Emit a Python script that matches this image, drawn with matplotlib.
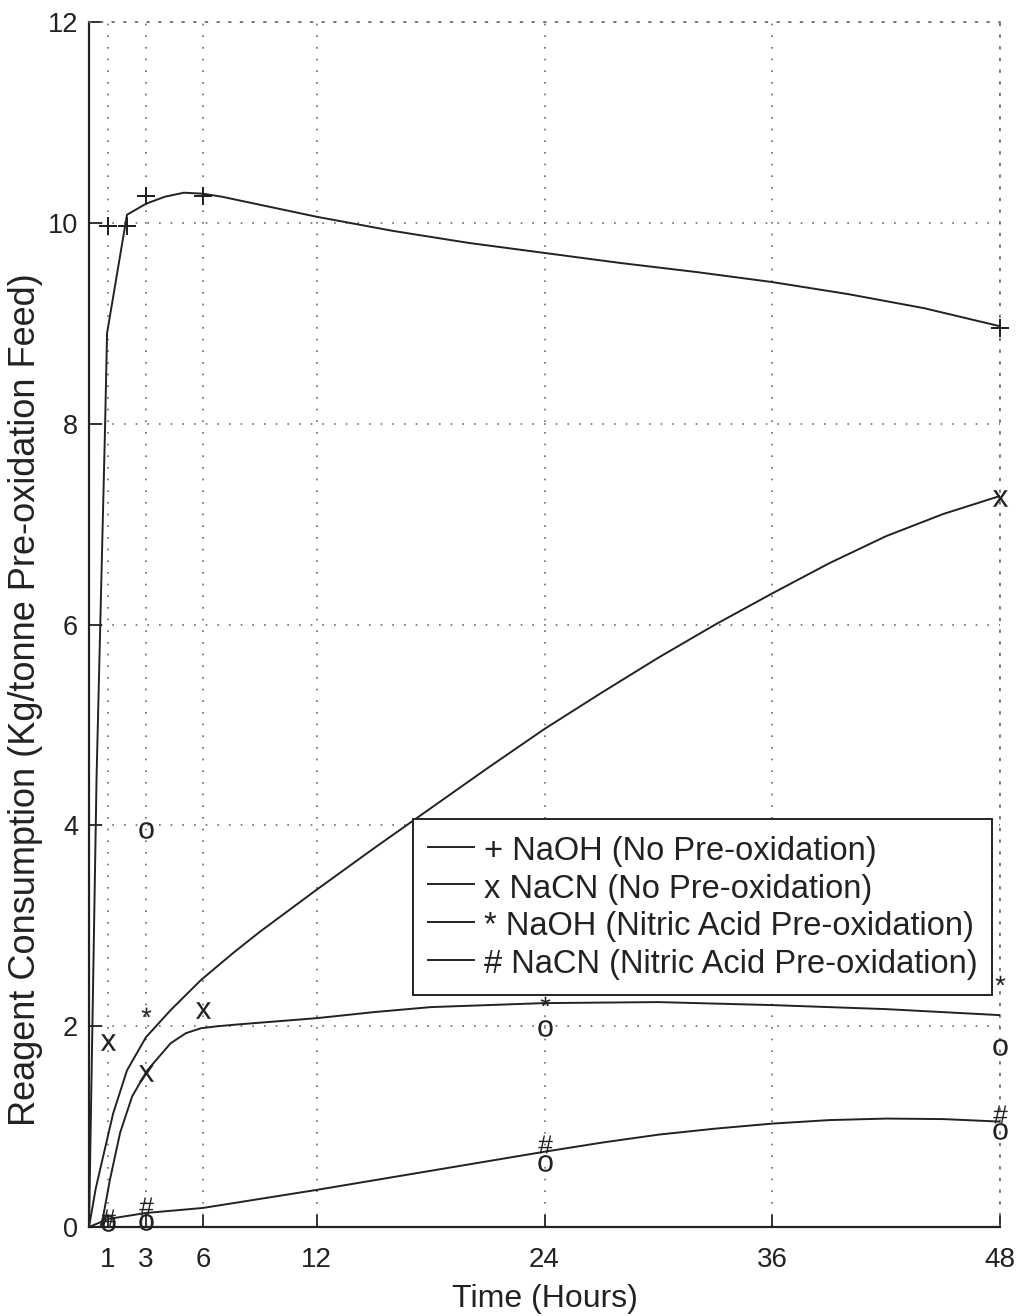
import matplotlib.pyplot as plt
from matplotlib.lines import Line2D

plt.rcParams["font.family"] = ["Liberation Sans", "DejaVu Sans"]
plt.rcParams["mathtext.default"] = "regular"

INK = "#222222"
GRID = "#6a6a6a"

# fitted curves (hours, kg/t)
naoh_fit_t = [0, 0.4, 0.85, 0.95, 2.0, 3.0, 4.0, 5.0, 6.0, 7.0, 8.0, 10.0, 12.0,
              14.0, 16.0, 18.0, 20.0, 24.0, 28.0, 32.0, 36.0, 40.0, 44.0, 48.0]
naoh_fit_v = [0, 4.5, 8.0, 8.9, 10.08, 10.19, 10.26, 10.3, 10.29, 10.26, 10.22,
              10.14, 10.06, 9.99, 9.92, 9.86, 9.8, 9.7, 9.6, 9.51, 9.41, 9.29,
              9.15, 8.97]

nacn_fit_t = [0, 0.35, 0.74, 1.27, 2.0, 3.0, 4.3, 5.9, 7.6, 9.0, 12.0, 15.0,
              18.0, 21.0, 24.0, 27.0, 30.0, 33.0, 36.0, 39.0, 42.0, 45.0, 48.0]
nacn_fit_v = [0, 0.38, 0.7, 1.13, 1.56, 1.89, 2.16, 2.46, 2.73, 2.94, 3.36,
              3.77, 4.17, 4.57, 4.96, 5.32, 5.67, 6.0, 6.31, 6.61, 6.88, 7.1,
              7.28]

naoh_hno3_fit_t = [0, 0.6, 0.74, 1.1, 1.64, 2.27, 3.07, 4.3, 5.1, 5.9, 6.8, 8.0,
                   10.0, 12.0, 15.0, 18.0, 24.0, 30.0, 36.0, 42.0, 48.0]
naoh_hno3_fit_v = [0, 0.0, 0.1, 0.47, 0.94, 1.3, 1.56, 1.83, 1.93, 1.98, 2.0,
                   2.02, 2.05, 2.08, 2.14, 2.19, 2.23, 2.24, 2.21, 2.17, 2.11]

nacn_hno3_fit_t = [0, 1.0, 3.0, 6.0, 9.0, 12.0, 18.0, 24.0, 27.0, 30.0, 33.0,
                   36.0, 39.0, 42.0, 45.0, 48.0]
nacn_hno3_fit_v = [0, 0.08, 0.14, 0.19, 0.28, 0.37, 0.56, 0.75, 0.84, 0.92,
                   0.98, 1.03, 1.065, 1.08, 1.075, 1.05]

# measured points
plus_t = [1, 2, 3, 6, 48]
plus_v = [9.97, 9.97, 10.27, 10.27, 8.95]
cross_t = [1, 3, 6, 48]
cross_v = [1.84, 1.53, 2.16, 7.26]
star_t = [3, 24, 48]
star_v = [2.14, 2.25, 2.46]
hash_t = [1, 3, 24, 48]
hash_v = [0.09, 0.21, 0.83, 1.13]
circ_t = [1, 3, 3, 24, 24, 48, 48]
circ_v = [0.04, 0.05, 3.95, 1.98, 0.64, 1.79, 0.96]

x_ticks = [1, 3, 6, 12, 24, 36, 48]
y_ticks = [0, 2, 4, 6, 8, 10, 12]

legend_labels = [
    "+ NaOH (No Pre-oxidation)",
    "x NaCN (No Pre-oxidation)",
    "* NaOH (Nitric Acid Pre-oxidation)",
    "# NaCN (Nitric Acid Pre-oxidation)",
]

fig = plt.figure(figsize=(10.22, 13.16), dpi=100, facecolor="white")
ax = fig.add_axes([0.0871, 0.0676, 0.8914, 0.9157])

curves = [
    (naoh_fit_t, naoh_fit_v),
    (nacn_fit_t, nacn_fit_v),
    (naoh_hno3_fit_t, naoh_hno3_fit_v),
    (nacn_hno3_fit_t, nacn_hno3_fit_v),
]
for t, v in curves:
    ax.plot(t, v, color=INK, lw=1.4, solid_joinstyle="round", zorder=3)

point_sets = [
    (plus_t, plus_v, r"$+$", 13),
    (cross_t, cross_v, r"$x$", 12),
    (star_t, star_v, r"$*$", 7),
    (hash_t, hash_v, r"$\#$", 13),
    (circ_t, circ_v, r"$o$", 12),
]
for t, v, glyph, size in point_sets:
    ax.plot(t, v, linestyle="none", marker=glyph, markersize=size,
            color=INK, markeredgewidth=0, zorder=4, clip_on=False)

ax.set_xlim(0, 48)
ax.set_ylim(0, 12)
ax.set_xticks(x_ticks)
ax.set_yticks(y_ticks)
ax.tick_params(direction="in", length=9, width=1.3, color=INK, labelcolor=INK)
ax.tick_params(axis="x", labelsize=20, pad=14.5)
ax.tick_params(axis="y", labelsize=19.5, pad=8)

dots = (0, (1, 6))
ax.grid(True, linestyle=dots, color=GRID, linewidth=1.2)
for side in ("left", "bottom"):
    ax.spines[side].set_linewidth(1.6)
    ax.spines[side].set_color(INK)
for side in ("top", "right"):
    ax.spines[side].set_linestyle(dots)
    ax.spines[side].set_linewidth(1.2)
    ax.spines[side].set_color(GRID)

ax.set_xlabel("Time (Hours)", fontsize=23, color=INK)
ax.xaxis.set_label_coords(0.5, -0.047)
ax.set_ylabel("Reagent Consumption (Kg/tonne Pre-oxidation Feed)",
              fontsize=26, color=INK)
ax.yaxis.set_label_coords(-0.051, 0.438)

handles = [Line2D([], [], color=INK, lw=1.4) for _ in legend_labels]
leg = ax.legend(handles, legend_labels, loc="upper left",
                bbox_to_anchor=(0.356, 0.339), borderaxespad=0,
                fontsize=23.5, handlelength=1.4, handletextpad=0.3,
                handleheight=1.1, labelspacing=0.12, borderpad=0.45,
                fancybox=False, framealpha=1, edgecolor=INK)
leg.get_frame().set_linewidth(1.4)
for txt in leg.get_texts():
    txt.set_color(INK)

fig.savefig("out.png", dpi=100, facecolor="white")
